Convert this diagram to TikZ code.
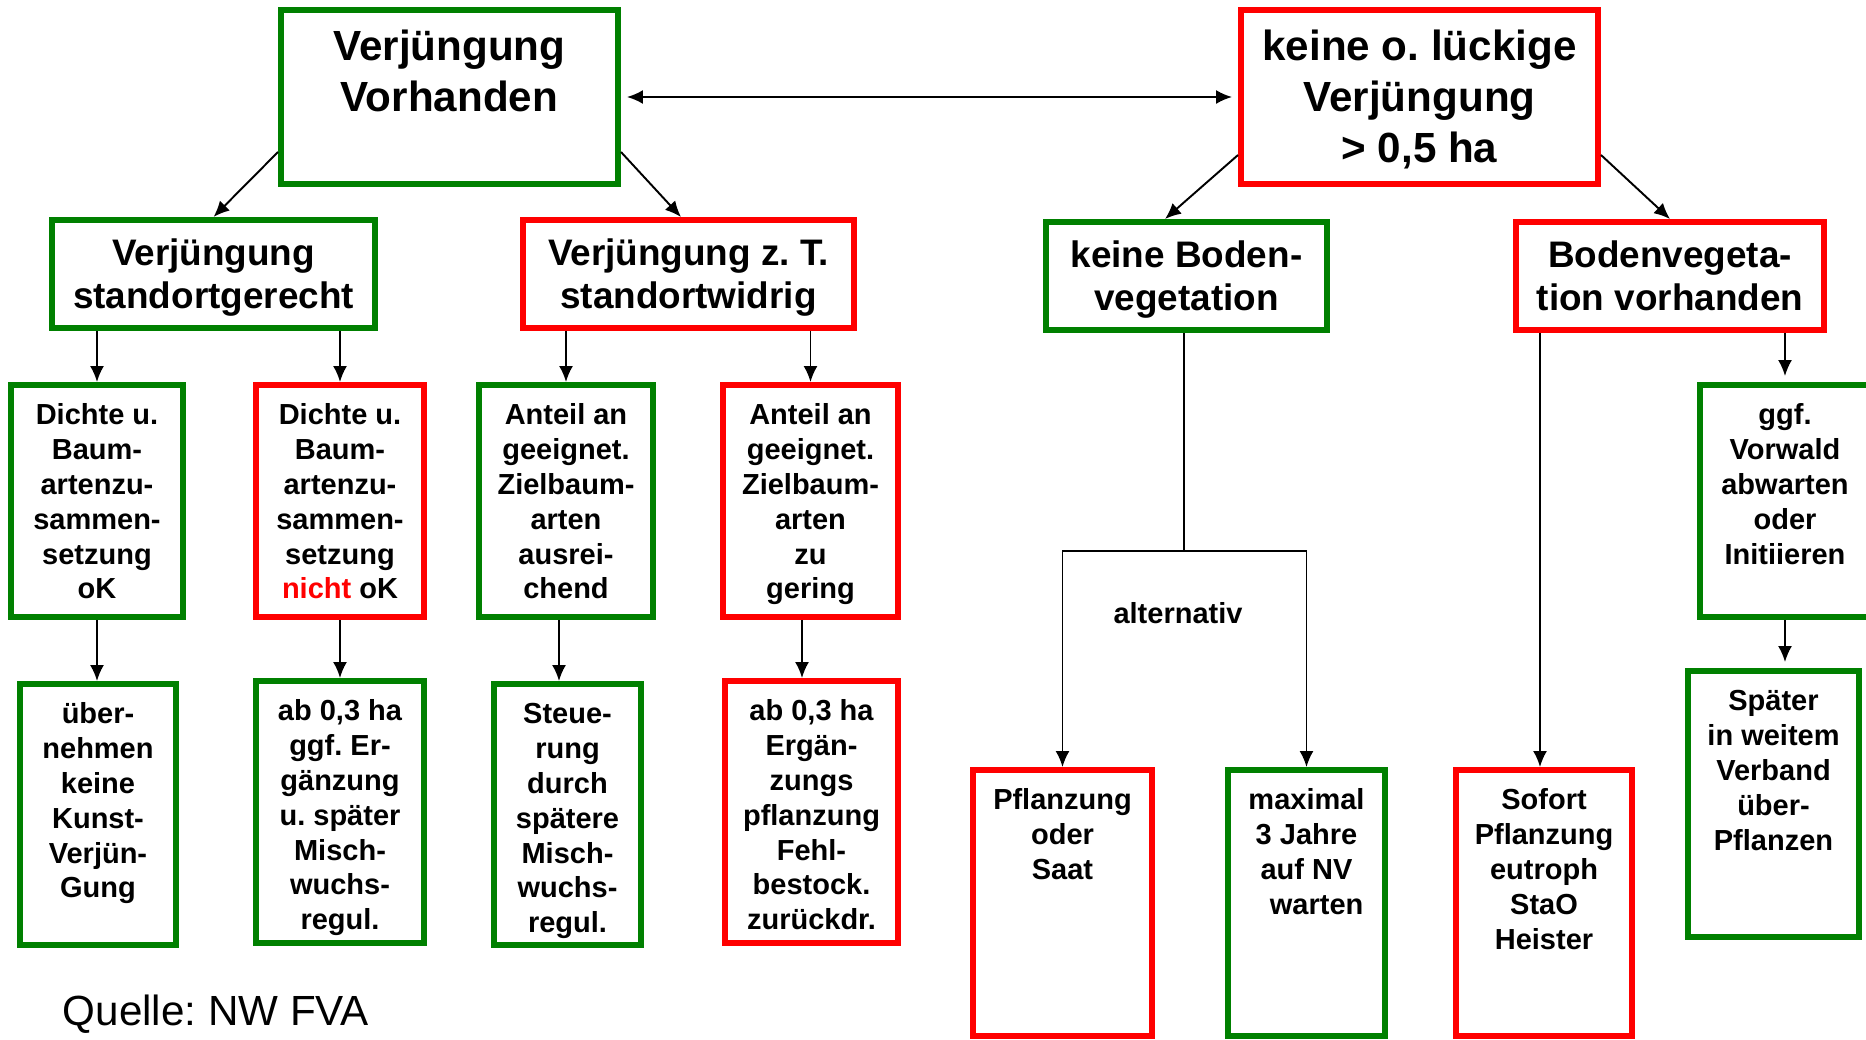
\documentclass[tikz,border=0pt]{standalone}
\usepackage{fontspec}
\setmainfont{Liberation Sans}
\usetikzlibrary{positioning, arrows.meta}
\definecolor{ngreen}{RGB}{0,128,0}
\definecolor{nred}{RGB}{255,0,0}
\frenchspacing
\newcommand{\cell}[3]{\parbox[c][#2][t]{#1}{\centering\vspace*{0.31cm}\strut#3}}

\begin{document}
\begin{tikzpicture}[>={Latex[length=3.2mm,width=2.8mm]}, line width=1.1pt,
  box/.style={draw, line width=3.4pt, inner sep=0pt},
  gbox/.style={box, draw=ngreen},
  rbox/.style={box, draw=nred},
  tittxt/.style={font=\fontsize{24}{28.8}\selectfont\bfseries},
  subtxt/.style={font=\fontsize{21}{24.5}\selectfont\bfseries},
  smltxt/.style={font=\fontsize{16.5}{19.8}\selectfont\bfseries}]
\useasboundingbox (0,0) rectangle (37.32,-20.78);

%Level 0
\node[gbox, tittxt] (vorh) at (8.99,-1.94) {\cell{6.74cm}{3.48cm}{Verjüngung\\Vorhanden}};
\node[rbox, tittxt] (lueck) at (28.39,-1.94) {\cell{7.14cm}{3.48cm}{keine o. lückige\\Verjüngung\\> 0,5 ha}};
\draw[<->, shorten <=0.12cm, shorten >=0.12cm] (vorh.east) -- (lueck.west);

%Level 1
\node[gbox, subtxt] (gerecht) at (4.27,-5.48) {\cell{6.46cm}{2.16cm}{Verjüngung\\standortgerecht}};
\node[rbox, subtxt] (widrig) at (13.77,-5.48) {\cell{6.62cm}{2.16cm}{Verjüngung z. T.\\standortwidrig}};
\node[gbox, subtxt] (keinbv) at (23.73,-5.52) {\cell{5.62cm}{2.16cm}{keine Boden-\\vegetation}};
\node[rbox, subtxt] (bodveg) at (33.40,-5.52) {\cell{6.16cm}{2.16cm}{Bodenvegeta-\\tion vorhanden}};

\draw[->] ([yshift=-1.1cm]vorh.west) -- (gerecht.north);
\draw[->] ([yshift=-1.1cm]vorh.east) -- ([xshift=-0.15cm]widrig.north);
\draw[->] ([yshift=-1.16cm]lueck.west) -- ([xshift=-0.43cm]keinbv.north);
\draw[->] ([yshift=-1.16cm]lueck.east) -- (bodveg.north);

%Level 2
\node[gbox, smltxt] (dichteok) at (1.94,-10.02) {\cell{3.44cm}{4.64cm}{Dichte u.\\Baum-\\artenzu-\\sammen-\\setzung\\oK}};
\node[rbox, smltxt] (dichtenok) at (6.80,-10.02) {\cell{3.36cm}{4.64cm}{Dichte u.\\Baum-\\artenzu-\\sammen-\\setzung\\\textcolor{nred}{nicht} oK}};
\node[gbox, smltxt] (anteilok) at (11.32,-10.02) {\cell{3.48cm}{4.64cm}{Anteil an\\geeignet.\\Zielbaum-\\arten\\ausrei-\\chend}};
\node[rbox, smltxt] (anteilger) at (16.21,-10.02) {\cell{3.50cm}{4.64cm}{Anteil an\\geeignet.\\Zielbaum-\\arten\\zu\\gering}};
\node[gbox, smltxt] (vorwald) at (35.70,-10.02) {\cell{3.40cm}{4.64cm}{ggf.\\Vorwald\\abwarten\\oder\\Initiieren}};

\draw[->] (dichteok.north |- gerecht.south) -- (dichteok.north);
\draw[->] (dichtenok.north |- gerecht.south) -- (dichtenok.north);
\draw[->] (anteilok.north |- widrig.south) -- (anteilok.north);
\draw[->] (anteilger.north |- widrig.south) -- (anteilger.north);
\draw[->, shorten >=0.12cm] (vorwald.north |- bodveg.south) -- (vorwald.north);

%Level 3
\node[gbox, smltxt] (uebern) at (1.96,-16.29) {\cell{3.12cm}{5.22cm}{über-\\nehmen\\keine\\Kunst-\\Verjün-\\Gung}};
\node[gbox, smltxt] (ergaenz) at (6.80,-16.24) {\cell{3.36cm}{5.24cm}{ab 0,3 ha\\ggf. Er-\\gänzung\\u. später\\Misch-\\wuchs-\\regul.}};
\node[gbox, smltxt] (steuer) at (11.35,-16.29) {\cell{2.94cm}{5.22cm}{Steue-\\rung\\durch\\spätere\\Misch-\\wuchs-\\regul.}};
\node[rbox, smltxt] (fehlbest) at (16.23,-16.24) {\cell{3.46cm}{5.24cm}{ab 0,3 ha\\Ergän-\\zungs\\pflanzung\\Fehl-\\bestock.\\zurückdr.}};
\node[gbox, smltxt] (spaeter) at (35.47,-16.08) {\cell{3.42cm}{5.32cm}{Später\\in weitem\\Verband\\über-\\Pflanzen}};

\draw[->] (dichteok.south) -- (dichteok.south |- uebern.north);
\draw[->] (dichtenok.south) -- (dichtenok.south |- ergaenz.north);
\draw[->] ([xshift=-0.14cm]anteilok.south) -- ([xshift=-0.14cm]anteilok.south |- steuer.north);
\draw[->] ([xshift=-0.17cm]anteilger.south) -- ([xshift=-0.17cm]anteilger.south |- fehlbest.north);
\draw[->, shorten >=0.12cm] (vorwald.south) -- (vorwald.south |- spaeter.north);

%Level 4
\node[rbox, smltxt] (pflsaat) at (21.25,-18.06) {\cell{3.58cm}{5.32cm}{Pflanzung\\oder\\Saat}};
\node[gbox, smltxt] (maxnv) at (26.13,-18.06) {\cell{3.14cm}{5.32cm}{maximal\\3 Jahre\\auf NV\\\hspace*{0.7em}warten}};
\node[rbox, smltxt] (sofort) at (30.88,-18.06) {\cell{3.52cm}{5.32cm}{Sofort\\Pflanzung\\eutroph\\StaO\\Heister}};

\coordinate (fork) at ([xshift=-0.05cm]keinbv.south |- 0,-11.02);
\draw ([xshift=-0.05cm]keinbv.south) -- (fork);
\draw[->] (fork) -| (pflsaat.north);
\draw[->] (fork) -| (maxnv.north);
\node[smltxt] (alt) at (23.56,-12.26) {alternativ};
\draw[->] ([xshift=-0.08cm]sofort.north |- bodveg.south) -- ([xshift=-0.08cm]sofort.north);

\node[anchor=base west, font=\fontsize{24}{28.8}\selectfont] (quelle) at (1.12,-20.5) {Quelle: NW FVA};
\end{tikzpicture}
\end{document}
